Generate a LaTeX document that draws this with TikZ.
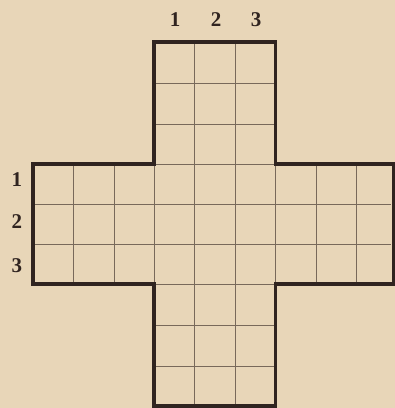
\documentclass[tikz,border=0pt]{standalone}
\usepackage{fontspec}
\setmainfont{Liberation Serif}
\definecolor{paper}{RGB}{232,214,184}
\definecolor{ink}{RGB}{48,36,32}
\definecolor{thin}{RGB}{120,105,90}
\begin{document}
\begin{tikzpicture}[x=1pt,y=-1pt,
  outline/.style={draw=ink,line width=3.6pt,line join=miter},
  gridline/.style={draw=thin,line width=0.9pt},
  lbl/.style={text=ink,font=\fontsize{21}{21}\selectfont\bfseries,inner sep=0pt}]
\fill[paper] (0,0) rectangle (395,408);
\useasboundingbox (0,0) rectangle (395,408);
% grid lines, horizontal arm
\foreach \x in {73.5,114,194.5,235,316,356.5}
  \draw[gridline] (\x,164) -- (\x,284);
\draw[gridline] (154,164) -- (154,284);
\draw[gridline] (275.5,164) -- (275.5,284);
\draw[gridline] (35,204) -- (391,204);
\draw[gridline] (35,244) -- (391,244);
% grid lines, vertical arm
\foreach \x in {194.5,235}
  \draw[gridline] (\x,42) -- (\x,406);
\foreach \y in {83,124,164,284,325,366}
  \draw[gridline] (154,\y) -- (275.5,\y);
% outline of the cross
\draw[outline] (154,42) -- (275.5,42) -- (275.5,164) -- (393.5,164) -- (393.5,284)
  -- (275.5,284) -- (275.5,406) -- (154,406) -- (154,284) -- (33,284)
  -- (33,164) -- (154,164) -- cycle;
% labels
\node[lbl] (c1) at (175,20) {1};
\node[lbl] (c2) at (216,20) {2};
\node[lbl] (c3) at (256,20) {3};
\node[lbl] (r1) at (17,180) {1};
\node[lbl] (r2) at (17,222) {2};
\node[lbl] (r3) at (17,266) {3};
\end{tikzpicture}
\end{document}
